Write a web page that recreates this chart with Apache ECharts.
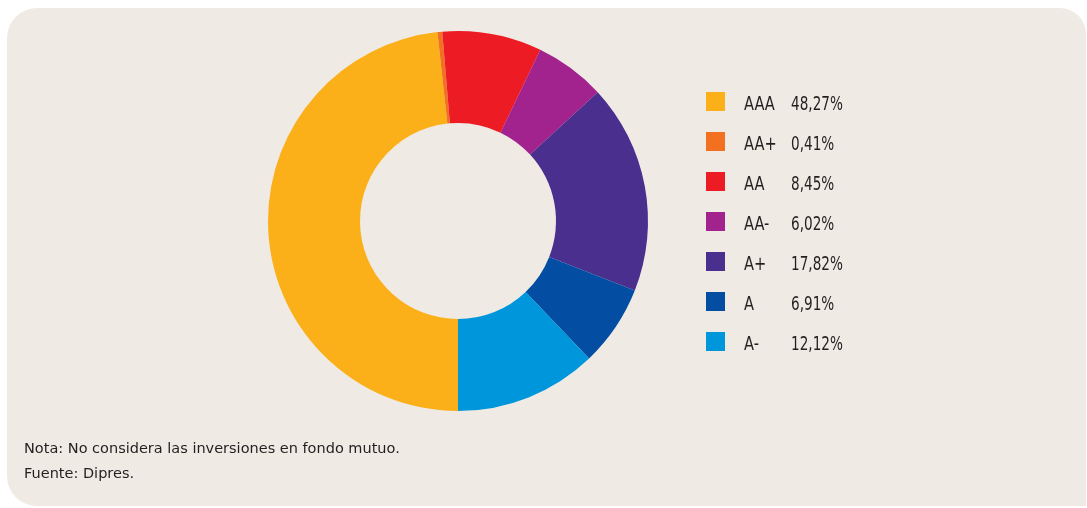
<!DOCTYPE html>
<html>
<head>
<meta charset="utf-8">
<script src="https://cdn.jsdelivr.net/npm/echarts@6/dist/echarts.min.js"></script>
<style>
  html, body { margin: 0; padding: 0; background: #ffffff; }
  #chart { width: 1087px; height: 508px; }
</style>
</head>
<body>
<div id="chart"></div>
<script>
const categories = ["AAA", "AA+", "AA", "AA-", "A+", "A", "A-"];
const shares = [48.27, 0.41, 8.45, 6.02, 17.82, 6.91, 12.12];
const colors = ["#FBB01A", "#F37021", "#ED1C24", "#A3238E", "#4A2F8F", "#034EA2", "#0096DB"];
const notes = ["Nota: No considera las inversiones en fondo mutuo.", "Fuente: Dipres."];

const chart = echarts.init(document.getElementById("chart"));

// porcentaje con coma decimal
function fmt(v) {
  return v.toFixed(2).replace(".", ",") + "%";
}

// textos del legend en fuente angosta (escala horizontal)
const legendTexts = [];
categories.forEach(function (c, i) {
  const y = 104.5 + i * 40;
  legendTexts.push({
    type: "text", x: 744, y: y, scaleX: 0.73, silent: true,
    style: { text: c, x: 0, y: 0, verticalAlign: "middle", font: "20px 'DejaVu Sans'", fill: "#231F20" }
  });
  legendTexts.push({
    type: "text", x: 791, y: y, scaleX: 0.68, silent: true,
    style: { text: fmt(shares[i]), x: 0, y: 0, verticalAlign: "middle", font: "20px 'DejaVu Sans'", fill: "#231F20" }
  });
});

const option = {
  backgroundColor: "#ffffff",
  graphic: [
    {
      type: "rect",
      shape: { x: 7, y: 8, width: 1079, height: 498, r: [30, 26, 0, 30] },
      style: { fill: "#F0EAE4" },
      z: -10
    },
    {
      type: "text",
      left: 24,
      top: 437,
      style: {
        text: notes.join("\n"),
        font: "14.5px 'DejaVu Sans'",
        lineHeight: 25,
        fill: "#231F20"
      }
    }
  ].concat(legendTexts),
  color: colors,
  legend: {
    orient: "vertical",
    left: 701,
    top: 87,
    itemWidth: 19,
    itemHeight: 19,
    itemGap: 21,
    icon: "rect",
    selectedMode: false,
    data: categories,
    formatter: function () { return ""; },
    textStyle: { padding: 0 }
  },
  series: [{
    type: "pie",
    center: [458, 221],
    radius: [98, 190],
    startAngle: 270,
    clockwise: true,
    silent: true,
    label: { show: false },
    labelLine: { show: false },
    itemStyle: { borderWidth: 0 },
    data: categories.map(function (c, i) {
      return { name: c, value: shares[i] };
    })
  }]
};

chart.setOption(option);
</script>
</body>
</html>
